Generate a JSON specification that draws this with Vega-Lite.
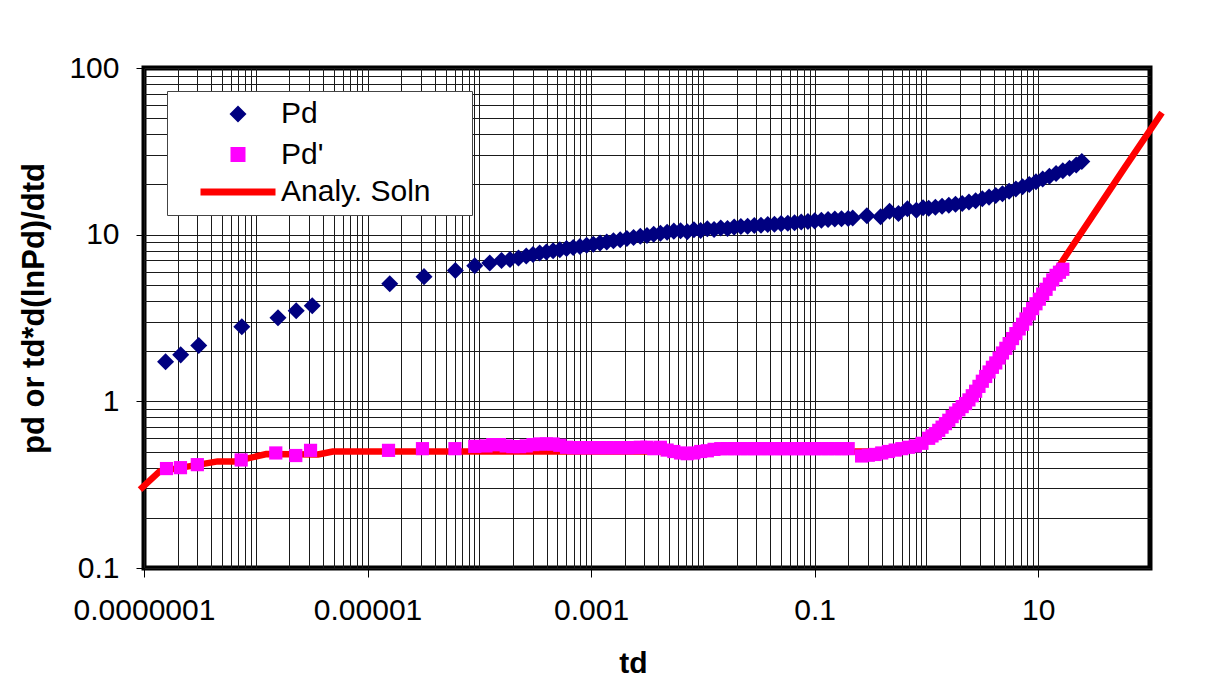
{
  "$schema": "https://vega.github.io/schema/vega-lite/v6.json",
  "width": 1006,
  "height": 500,
  "autosize": {"type": "none"},
  "padding": {"left": 144, "top": 68, "right": 73, "bottom": 128},
  "background": "white",
  "datasets": {
    "analy": [
      {"td": 9.2e-8, "y": 0.295},
      {"td": 1.38e-7, "y": 0.38},
      {"td": 4.57e-7, "y": 0.436},
      {"td": 6.5e-7, "y": 0.436},
      {"td": 1.25e-6, "y": 0.483},
      {"td": 3.6e-6, "y": 0.48},
      {"td": 4.9e-6, "y": 0.5},
      {"td": 1e-5, "y": 0.5},
      {"td": 0.001, "y": 0.5},
      {"td": 0.1, "y": 0.5},
      {"td": 0.3, "y": 0.5},
      {"td": 0.6, "y": 0.51},
      {"td": 0.83, "y": 0.53},
      {"td": 1.25, "y": 0.64},
      {"td": 1.63, "y": 0.78},
      {"td": 2.32, "y": 0.98},
      {"td": 3.22, "y": 1.33},
      {"td": 4.58, "y": 1.9},
      {"td": 6.5, "y": 2.7},
      {"td": 9.0, "y": 3.8},
      {"td": 12.8, "y": 5.35},
      {"td": 16.8, "y": 7.1},
      {"td": 30, "y": 12.7},
      {"td": 60, "y": 25.5},
      {"td": 128, "y": 54}
    ],
    "pdp": [
      {"td": 1.59e-7, "y": 0.395},
      {"td": 2.12e-7, "y": 0.40},
      {"td": 3.0e-7, "y": 0.417},
      {"td": 7.4e-7, "y": 0.445},
      {"td": 1.51e-6, "y": 0.49},
      {"td": 2.28e-6, "y": 0.473},
      {"td": 3.09e-6, "y": 0.508},
      {"td": 1.54e-5, "y": 0.508},
      {"td": 3.1e-5, "y": 0.52},
      {"td": 6.05e-5, "y": 0.52},
      {"td": 9.1e-5, "y": 0.537},
      {"td": 1.148e-4, "y": 0.54},
      {"td": 1.318e-4, "y": 0.55},
      {"td": 1.514e-4, "y": 0.55},
      {"td": 1.738e-4, "y": 0.54},
      {"td": 1.995e-4, "y": 0.535},
      {"td": 2.291e-4, "y": 0.535},
      {"td": 2.630e-4, "y": 0.54},
      {"td": 3.020e-4, "y": 0.55},
      {"td": 3.467e-4, "y": 0.555},
      {"td": 3.981e-4, "y": 0.555},
      {"td": 4.571e-4, "y": 0.555},
      {"td": 5.248e-4, "y": 0.545},
      {"td": 6.026e-4, "y": 0.53},
      {"td": 6.918e-4, "y": 0.527},
      {"td": 7.943e-4, "y": 0.527},
      {"td": 9.120e-4, "y": 0.527},
      {"td": 1.047e-3, "y": 0.527},
      {"td": 1.202e-3, "y": 0.527},
      {"td": 1.380e-3, "y": 0.527},
      {"td": 1.585e-3, "y": 0.527},
      {"td": 1.820e-3, "y": 0.527},
      {"td": 2.089e-3, "y": 0.527},
      {"td": 2.399e-3, "y": 0.527},
      {"td": 2.754e-3, "y": 0.53},
      {"td": 3.162e-3, "y": 0.53},
      {"td": 3.631e-3, "y": 0.52},
      {"td": 4.169e-3, "y": 0.53},
      {"td": 4.786e-3, "y": 0.51},
      {"td": 5.495e-3, "y": 0.50},
      {"td": 6.310e-3, "y": 0.49},
      {"td": 7.244e-3, "y": 0.485},
      {"td": 8.318e-3, "y": 0.49},
      {"td": 9.550e-3, "y": 0.50},
      {"td": 1.096e-2, "y": 0.505},
      {"td": 1.259e-2, "y": 0.515},
      {"td": 1.445e-2, "y": 0.52},
      {"td": 1.660e-2, "y": 0.52},
      {"td": 1.905e-2, "y": 0.52},
      {"td": 2.188e-2, "y": 0.52},
      {"td": 2.512e-2, "y": 0.52},
      {"td": 2.884e-2, "y": 0.52},
      {"td": 3.311e-2, "y": 0.52},
      {"td": 3.802e-2, "y": 0.52},
      {"td": 4.365e-2, "y": 0.52},
      {"td": 5.012e-2, "y": 0.52},
      {"td": 5.754e-2, "y": 0.52},
      {"td": 6.607e-2, "y": 0.52},
      {"td": 7.586e-2, "y": 0.52},
      {"td": 8.710e-2, "y": 0.52},
      {"td": 0.1, "y": 0.52},
      {"td": 0.1148, "y": 0.52},
      {"td": 0.1318, "y": 0.52},
      {"td": 0.1514, "y": 0.52},
      {"td": 0.1738, "y": 0.52},
      {"td": 0.1995, "y": 0.52},
      {"td": 0.2630, "y": 0.47},
      {"td": 0.3020, "y": 0.475},
      {"td": 0.3467, "y": 0.48},
      {"td": 0.3981, "y": 0.49},
      {"td": 0.4571, "y": 0.50},
      {"td": 0.5248, "y": 0.51},
      {"td": 0.6026, "y": 0.52},
      {"td": 0.6918, "y": 0.53},
      {"td": 0.7943, "y": 0.54},
      {"td": 0.9120, "y": 0.56},
      {"td": 1.047, "y": 0.60},
      {"td": 1.122, "y": 0.62},
      {"td": 1.202, "y": 0.64},
      {"td": 1.288, "y": 0.67},
      {"td": 1.380, "y": 0.70},
      {"td": 1.479, "y": 0.735},
      {"td": 1.585, "y": 0.77},
      {"td": 1.698, "y": 0.81},
      {"td": 1.820, "y": 0.85},
      {"td": 1.950, "y": 0.89},
      {"td": 2.089, "y": 0.93},
      {"td": 2.239, "y": 0.97},
      {"td": 2.399, "y": 1.02},
      {"td": 2.570, "y": 1.08},
      {"td": 2.754, "y": 1.15},
      {"td": 2.951, "y": 1.23},
      {"td": 3.162, "y": 1.32},
      {"td": 3.388, "y": 1.41},
      {"td": 3.631, "y": 1.50},
      {"td": 3.890, "y": 1.60},
      {"td": 4.169, "y": 1.70},
      {"td": 4.467, "y": 1.82},
      {"td": 4.786, "y": 1.95},
      {"td": 5.129, "y": 2.08},
      {"td": 5.495, "y": 2.22},
      {"td": 5.888, "y": 2.38},
      {"td": 6.310, "y": 2.55},
      {"td": 6.761, "y": 2.72},
      {"td": 7.244, "y": 2.90},
      {"td": 7.762, "y": 3.12},
      {"td": 8.318, "y": 3.35},
      {"td": 8.913, "y": 3.60},
      {"td": 9.550, "y": 3.85},
      {"td": 10.23, "y": 4.10},
      {"td": 10.96, "y": 4.40},
      {"td": 11.75, "y": 4.70},
      {"td": 12.59, "y": 5.05},
      {"td": 13.49, "y": 5.35},
      {"td": 14.45, "y": 5.70},
      {"td": 15.49, "y": 5.95},
      {"td": 16.60, "y": 6.20}
    ],
    "pd": [
      {"td": 1.56e-7, "y": 1.73},
      {"td": 2.13e-7, "y": 1.9},
      {"td": 3.09e-7, "y": 2.16},
      {"td": 7.5e-7, "y": 2.8},
      {"td": 1.58e-6, "y": 3.17},
      {"td": 2.3e-6, "y": 3.5},
      {"td": 3.2e-6, "y": 3.75},
      {"td": 1.58e-5, "y": 5.08},
      {"td": 3.2e-5, "y": 5.6},
      {"td": 6.1e-5, "y": 6.1},
      {"td": 9.1e-5, "y": 6.5},
      {"td": 1.24e-4, "y": 6.77},
      {"td": 1.58e-4, "y": 7.0},
      {"td": 1.88e-4, "y": 7.1},
      {"td": 2.24e-4, "y": 7.25},
      {"td": 2.630e-4, "y": 7.45},
      {"td": 3.020e-4, "y": 7.6},
      {"td": 3.467e-4, "y": 7.77},
      {"td": 3.981e-4, "y": 7.88},
      {"td": 4.571e-4, "y": 8.0},
      {"td": 5.248e-4, "y": 8.12},
      {"td": 6.026e-4, "y": 8.25},
      {"td": 6.918e-4, "y": 8.38},
      {"td": 7.943e-4, "y": 8.5},
      {"td": 9.120e-4, "y": 8.63},
      {"td": 1.047e-3, "y": 8.76},
      {"td": 1.202e-3, "y": 8.9},
      {"td": 1.380e-3, "y": 9.05},
      {"td": 1.585e-3, "y": 9.2},
      {"td": 1.820e-3, "y": 9.33},
      {"td": 2.089e-3, "y": 9.48},
      {"td": 2.399e-3, "y": 9.62},
      {"td": 2.754e-3, "y": 9.77},
      {"td": 3.162e-3, "y": 9.9},
      {"td": 3.631e-3, "y": 10.05},
      {"td": 4.169e-3, "y": 10.2},
      {"td": 4.786e-3, "y": 10.35},
      {"td": 5.495e-3, "y": 10.5},
      {"td": 6.310e-3, "y": 10.55},
      {"td": 7.244e-3, "y": 10.4},
      {"td": 8.318e-3, "y": 10.7},
      {"td": 9.550e-3, "y": 10.6},
      {"td": 1.096e-2, "y": 10.85},
      {"td": 1.259e-2, "y": 10.75},
      {"td": 1.445e-2, "y": 10.95},
      {"td": 1.660e-2, "y": 10.9},
      {"td": 1.905e-2, "y": 11.1},
      {"td": 2.188e-2, "y": 11.2},
      {"td": 2.512e-2, "y": 11.25},
      {"td": 2.884e-2, "y": 11.35},
      {"td": 3.311e-2, "y": 11.4},
      {"td": 3.802e-2, "y": 11.5},
      {"td": 4.365e-2, "y": 11.55},
      {"td": 5.012e-2, "y": 11.65},
      {"td": 5.754e-2, "y": 11.7},
      {"td": 6.607e-2, "y": 11.8},
      {"td": 7.586e-2, "y": 11.9},
      {"td": 8.710e-2, "y": 12.0},
      {"td": 0.1, "y": 12.1},
      {"td": 0.1148, "y": 12.2},
      {"td": 0.1318, "y": 12.35},
      {"td": 0.1514, "y": 12.4},
      {"td": 0.1738, "y": 12.45},
      {"td": 0.1995, "y": 12.5},
      {"td": 0.2188, "y": 12.6},
      {"td": 0.293, "y": 13.0},
      {"td": 0.389, "y": 12.8},
      {"td": 0.468, "y": 13.8},
      {"td": 0.562, "y": 13.4},
      {"td": 0.676, "y": 14.3},
      {"td": 0.813, "y": 14.0},
      {"td": 0.933, "y": 14.5},
      {"td": 1.047, "y": 14.4},
      {"td": 1.202, "y": 14.6},
      {"td": 1.380, "y": 14.8},
      {"td": 1.585, "y": 15.0},
      {"td": 1.820, "y": 15.2},
      {"td": 2.089, "y": 15.4},
      {"td": 2.399, "y": 15.7},
      {"td": 2.754, "y": 16.0},
      {"td": 3.162, "y": 16.4},
      {"td": 3.631, "y": 16.8},
      {"td": 4.169, "y": 17.2},
      {"td": 4.786, "y": 17.6},
      {"td": 5.495, "y": 18.2},
      {"td": 6.310, "y": 18.8},
      {"td": 7.244, "y": 19.4},
      {"td": 8.318, "y": 20.0},
      {"td": 9.550, "y": 20.8},
      {"td": 10.96, "y": 21.6},
      {"td": 12.59, "y": 22.4},
      {"td": 14.45, "y": 23.3},
      {"td": 16.60, "y": 24.2},
      {"td": 19.05, "y": 25.0},
      {"td": 21.88, "y": 26.2},
      {"td": 24.55, "y": 27.5}
    ]
  },
  "encoding": {
    "x": {
      "field": "td",
      "type": "quantitative",
      "scale": {"type": "log", "domain": [1e-7, 100], "nice": false},
      "axis": {
        "values": [1e-7, 2e-7, 3e-7, 4e-7, 5e-7, 6e-7, 7e-7, 8e-7, 9e-7,
                   1e-6, 2e-6, 3e-6, 4e-6, 5e-6, 6e-6, 7e-6, 8e-6, 9e-6,
                   1e-5, 2e-5, 3e-5, 4e-5, 5e-5, 6e-5, 7e-5, 8e-5, 9e-5,
                   1e-4, 2e-4, 3e-4, 4e-4, 5e-4, 6e-4, 7e-4, 8e-4, 9e-4,
                   0.001, 0.002, 0.003, 0.004, 0.005, 0.006, 0.007, 0.008, 0.009,
                   0.01, 0.02, 0.03, 0.04, 0.05, 0.06, 0.07, 0.08, 0.09,
                   0.1, 0.2, 0.3, 0.4, 0.5, 0.6, 0.7, 0.8, 0.9,
                   1, 2, 3, 4, 5, 6, 7, 8, 9, 10],
        "labelExpr": "(datum.value === 1e-7 || datum.value === 1e-5 || datum.value === 0.001 || datum.value === 0.1 || datum.value === 10) ? format(datum.value, '.7~f') : ''",
        "tickOpacity": {"condition": {"test": "datum.value === 1e-7 || datum.value === 1e-5 || datum.value === 0.001 || datum.value === 0.1 || datum.value === 10", "value": 1}, "value": 0},
        "grid": true,
        "gridColor": "#1a1a1a",
        "gridWidth": 1,
        "domain": false,
        "tickColor": "black",
        "tickWidth": 1,
        "tickSize": 9,
        "labelFont": "Liberation Sans",
        "labelFontSize": 30,
        "labelColor": "black",
        "labelPadding": 18,
        "labelOverlap": false,
        "labelBound": false,
        "labelFlush": false,
        "title": "td",
        "titleFont": "Liberation Sans",
        "titleFontWeight": "bold",
        "titleFontSize": 30,
        "titleColor": "black",
        "titleX": 489,
        "titleY": 104,
        "titleAlign": "center",
        "titleBaseline": "alphabetic"
      }
    },
    "y": {
      "field": "y",
      "type": "quantitative",
      "scale": {"type": "log", "domain": [0.1, 100], "nice": false},
      "axis": {
        "values": [0.1, 0.2, 0.3, 0.4, 0.5, 0.6, 0.7, 0.8, 0.9,
                   1, 2, 3, 4, 5, 6, 7, 8, 9,
                   10, 20, 30, 40, 50, 60, 70, 80, 90, 100],
        "labelExpr": "(datum.value === 0.1 || datum.value === 1 || datum.value === 10 || datum.value === 100) ? format(datum.value, '~g') : ''",
        "tickOpacity": {"condition": {"test": "datum.value === 0.1 || datum.value === 1 || datum.value === 10 || datum.value === 100", "value": 1}, "value": 0},
        "grid": true,
        "gridColor": "#1a1a1a",
        "gridWidth": 1,
        "domain": false,
        "tickColor": "black",
        "tickWidth": 1,
        "tickSize": 8,
        "labelFont": "Liberation Sans",
        "labelFontSize": 30,
        "labelColor": "black",
        "labelPadding": 17,
        "labelOverlap": false,
        "labelBound": false,
        "labelFlush": false,
        "title": "pd or td*d(lnPd)/dtd",
        "titleFont": "Liberation Sans",
        "titleFontWeight": "bold",
        "titleFontSize": 31,
        "titleColor": "black",
        "titleAngle": -90,
        "titleX": -110,
        "titleY": 240,
        "titleAlign": "center",
        "titleBaseline": "middle"
      }
    }
  },
  "layer": [
    {
      "data": {"name": "analy"},
      "mark": {"type": "line", "strokeWidth": 6.5, "strokeJoin": "round", "clip": false},
      "encoding": {
        "color": {
          "datum": "Analy. Soln",
          "type": "nominal",
          "scale": {"domain": ["Pd", "Pd'", "Analy. Soln"], "range": ["#000080", "#FF00FF", "#FF0000"]},
          "legend": {
            "title": null,
            "labelExpr": "datum.label === 'Analy. Soln' ? datum.label + '\u00a0\u00a0\u00a0\u00a0\u200b' : datum.label"
          }
        }
      }
    },
    {
      "data": {"name": "pdp"},
      "mark": {"type": "point", "filled": true, "size": 1089, "opacity": 1, "strokeWidth": 0},
      "encoding": {
        "color": {"datum": "Pd'", "type": "nominal"},
        "shape": {
          "datum": "Pd'",
          "type": "nominal",
          "scale": {"domain": ["Pd", "Pd'", "Analy. Soln"], "range": ["M0,-0.355L0.355,0L0,0.355L-0.355,0Z", "M-0.4,-0.4H0.4V0.4H-0.4Z", "M-3.75,0H3.75"]},
          "legend": {
            "title": null,
            "labelExpr": "datum.label === 'Analy. Soln' ? datum.label + '\u00a0\u00a0\u00a0\u00a0\u200b' : datum.label"
          }
        }
      }
    },
    {
      "data": {"name": "pd"},
      "mark": {"type": "point", "filled": true, "size": 2300, "opacity": 1, "strokeWidth": 0},
      "encoding": {
        "color": {"datum": "Pd", "type": "nominal"},
        "shape": {"datum": "Pd", "type": "nominal"}
      }
    }
  ],
  "config": {
    "view": {"stroke": "black", "strokeWidth": 5, "fill": "white"},
    "legend": {
      "orient": "top-left",
      "offset": 23,
      "padding": 8,
      "fillColor": "white",
      "strokeColor": "#444444",
      "symbolSize": 400,
      "symbolStrokeWidth": 7,
      "symbolOffset": 48,
      "labelOffset": 28,
      "rowPadding": 4.5,
      "labelFont": "Liberation Sans",
      "labelFontSize": 30,
      "labelColor": "black",
      "labelLimit": 400
    }
  }
}
